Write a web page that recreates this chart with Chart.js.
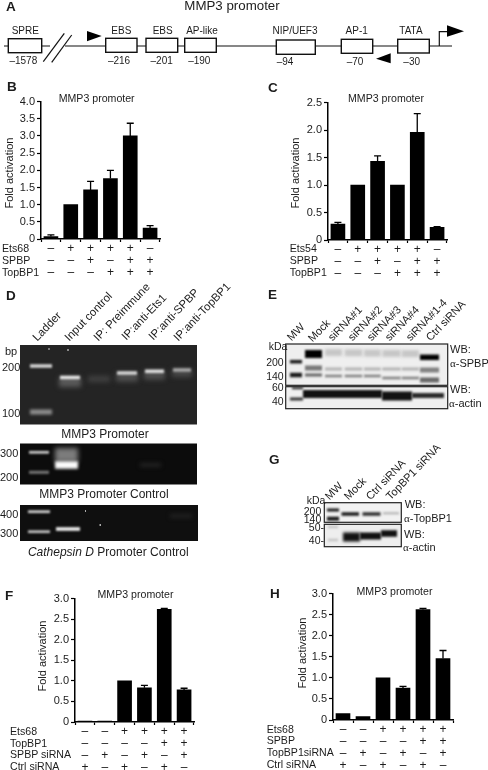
<!DOCTYPE html>
<html>
<head>
<meta charset="utf-8">
<script src="https://cdn.jsdelivr.net/npm/chart.js@4"></script>
<style>
  html, body { margin: 0; padding: 0; background: #fff; }
  body { position: relative; width: 488px; height: 770px; overflow: hidden; font-family: "Liberation Sans", Arial, sans-serif; color: #1c1c1c; filter: blur(0.3px); }
  canvas { position: absolute; }
  .t { position: absolute; white-space: nowrap; line-height: 1; }
  .a { font-family: "Liberation Serif", serif; }
</style>
</head>
<body>
<canvas id="art" width="488" height="770" style="left:0;top:0"></canvas>
<canvas id="chartB"></canvas>
<canvas id="chartC"></canvas>
<canvas id="chartF"></canvas>
<canvas id="chartH"></canvas>
<script>
// chart values
const valuesB = [0.07, 1.0, 1.43, 1.76, 3.0, 0.32];
const errTopB = [0.12, 1.0, 1.68, 2.0, 3.37, 0.39];
const rowNamesB = ["Ets68", "SPBP", "TopBP1"];
const rowsB = ["-++++-", "--+-++", "---+++"];

const valuesC = [0.29, 1.0, 1.43, 1.0, 1.96, 0.23];
const errTopC = [0.32, 1.0, 1.53, 1.0, 2.3, 0.245];
const rowNamesC = ["Ets54", "SPBP", "TopBP1"];
const rowsC = ["-++++-", "--+-++", "---+++"];

const valuesF = [0.02, 0.02, 1.0, 0.83, 2.74, 0.78];
const errTopF = [0.025, 0.025, 1.0, 0.89, 2.76, 0.82];
const rowNamesF = ["Ets68", "TopBP1", "SPBP siRNA", "Ctrl siRNA"];
const rowsF = ["--++++", "----++", "-+-+-+", "+-+-+-"];

const valuesH = [0.15, 0.08, 1.0, 0.76, 2.62, 1.46];
const errTopH = [0.15, 0.09, 1.0, 0.8, 2.65, 1.65];
const rowNamesH = ["Ets68", "SPBP", "TopBP1siRNA", "Ctrl siRNA"];
const rowsH = ["--++++", "----++", "-+-+-+", "+-+-+-"];

const INK = "#1c1c1c";

function text(str, x, y, size, opts) {
  opts = opts || {};
  const el = document.createElement("div");
  el.className = "t";
  el.innerHTML = str;
  el.style.fontSize = size + "px";
  el.style.left = x + "px";
  el.style.top = y + "px";
  let tf = "translateY(-50%)";
  if (opts.center) tf = "translate(-50%,-50%)";
  if (opts.right) tf = "translate(-100%,-50%)";
  if (opts.rotate) {
    tf = "rotate(" + opts.rotate + "deg)";
    el.style.transformOrigin = "0 100%";
    el.style.left = x + 2 + "px";
    el.style.top = y - size + 1.5 + "px";
  }
  if (opts.bold) el.style.fontWeight = "bold";
  el.style.transform = tf;
  document.body.appendChild(el);
}

// error bars go through the same y scale as the bars
const errorBars = {
  id: "errorBars",
  afterDatasetsDraw(chart, args, opts) {
    const { ctx, scales } = chart;
    ctx.save();
    ctx.strokeStyle = "#000";
    ctx.lineWidth = 1.3;
    opts.tops.forEach((top, i) => {
      const x = scales.x.getPixelForValue(i);
      const y0 = scales.y.getPixelForValue(chart.data.datasets[0].data[i]);
      const y1 = scales.y.getPixelForValue(top);
      if (y0 - y1 < 0.5) return;
      ctx.beginPath();
      ctx.moveTo(x, y0);
      ctx.lineTo(x, y1);
      ctx.moveTo(x - 3.5, y1);
      ctx.lineTo(x + 3.5, y1);
      ctx.stroke();
    });
    ctx.restore();
  },
};

function barChart(id, values, tops, rows, yMax, box) {
  const cv = document.getElementById(id);
  const axisW = 39;
  const padTop = 8;
  const width = box.right - box.axisX + axisW + 4;
  const height = box.zeroY - box.topY + padTop + 52;
  cv.style.left = box.axisX - axisW + "px";
  cv.style.top = box.topY - padTop + "px";
  cv.style.width = width + "px";
  cv.style.height = height + "px";
  cv.width = width;
  cv.height = height;
  const signs = { "-": "\u2013", "+": "+" };
  const labels = values.map((v, i) => rows.map((r) => signs[r[i]]));
  new Chart(cv, {
    type: "bar",
    data: {
      labels,
      datasets: [{ data: values, backgroundColor: "#000", barThickness: 14 }],
    },
    plugins: [errorBars],
    options: {
      responsive: false,
      animation: false,
      layout: { padding: { top: padTop, right: 4, left: 0, bottom: 0 } },
      plugins: {
        legend: { display: false },
        tooltip: { enabled: false },
        errorBars: { tops },
      },
      scales: {
        x: {
          afterFit: (s) => { s.height = 52; },
          grid: { drawOnChartArea: false, tickLength: 3, tickColor: "#000", tickWidth: 1.2 },
          border: { color: "#000", width: 1.5 },
          ticks: {
            autoSkip: false,
            maxRotation: 0,
            padding: 1,
            color: INK,
            font: { family: "Liberation Sans", size: 12, lineHeight: box.rowH / 12 },
          },
        },
        y: {
          min: 0,
          max: yMax,
          afterFit: (s) => { s.width = axisW; },
          grid: { drawOnChartArea: false, tickLength: 4, tickColor: "#000", tickWidth: 1.2 },
          border: { color: "#000", width: 1.5 },
          ticks: {
            stepSize: 0.5,
            padding: 2,
            color: INK,
            font: { family: "Liberation Sans", size: 11 },
            callback: (v) => (v === 0 ? "0" : v.toFixed(1)),
          },
        },
      },
    },
  });
}

barChart("chartB", valuesB, errTopB, rowsB, 4, { axisX: 41, right: 160, topY: 101, zeroY: 239, rowH: 12 });
barChart("chartC", valuesC, errTopC, rowsC, 2.5, { axisX: 328, right: 447, topY: 102, zeroY: 240, rowH: 12 });
barChart("chartF", valuesF, errTopF, rowsF, 3, { axisX: 75, right: 194, topY: 598, zeroY: 722, rowH: 11.8 });
barChart("chartH", valuesH, errTopH, rowsH, 3, { axisX: 333, right: 453, topY: 593, zeroY: 720, rowH: 11.8 });

// chart captions
function captions(letter, lx, ly, titleX, titleY, foldX, foldY, names, nameX, nameYs) {
  text(letter, lx, ly, 13.5, { bold: true });
  text("MMP3 promoter", titleX, titleY, 10.6, { center: true });
  const f = document.createElement("div");
  f.className = "t";
  f.textContent = "Fold activation";
  f.style.cssText = "font-size:11px;left:" + foldX + "px;top:" + foldY + "px;transform:translate(-50%,-50%) rotate(-90deg)";
  document.body.appendChild(f);
  names.forEach((n, i) => text(n, nameX, nameYs[i], 10.6));
}
captions("B", 7, 87, 96.7, 98, 8.5, 173, rowNamesB, 2, [248, 260, 272]);
captions("C", 268, 88, 386, 98, 295, 173, rowNamesC, 289.7, [248, 260, 272]);
captions("F", 5, 596, 135.5, 593.5, 42.3, 655.7, rowNamesF, 10, [730.7, 742.7, 754.3, 766]);
captions("H", 270, 594, 394.5, 591, 301.7, 652.7, rowNamesH, 266.7, [728.7, 740, 752.3, 764.3]);

// schematic and gel photographs, not chart data
const ctx = document.getElementById("art").getContext("2d");

function line(pts, w) {
  ctx.lineWidth = w || 1.2;
  ctx.strokeStyle = "#111";
  ctx.beginPath();
  pts.forEach((p, i) => (i ? ctx.lineTo(p[0], p[1]) : ctx.moveTo(p[0], p[1])));
  ctx.stroke();
}
function tri(pts) {
  ctx.fillStyle = "#000";
  ctx.beginPath();
  pts.forEach((p, i) => (i ? ctx.lineTo(p[0], p[1]) : ctx.moveTo(p[0], p[1])));
  ctx.fill();
}
function site(x0, x1, y0, y1) {
  ctx.fillStyle = "#fff";
  ctx.fillRect(x0, y0, x1 - x0, y1 - y0);
  ctx.strokeStyle = "#111";
  ctx.lineWidth = 1.4;
  ctx.strokeRect(x0, y0, x1 - x0, y1 - y0);
}

line([[4, 46], [50, 46]]);
line([[65, 46], [452, 46]]);
line([[43.3, 61.7], [64.3, 33.3]]);
line([[51.7, 62.3], [71.7, 35]]);
site(8.3, 41.7, 38.7, 52.7);
site(105.7, 137, 38.3, 52.3);
site(146, 177.7, 38.3, 52.3);
site(184.7, 216.3, 38.3, 52.3);
site(276.3, 315.3, 40, 54.3);
site(341.3, 372.7, 39.3, 53.3);
site(397.7, 429.3, 39.3, 53);
tri([[87, 31], [87, 41.3], [101.7, 36]]);
tri([[390.7, 53.3], [390.7, 63.3], [376, 58.7]]);
line([[439.3, 46], [439.3, 31.7], [449, 31.7]]);
tri([[447, 25.3], [447, 36.7], [464, 31.3]]);

text("A", 6, 7, 13.5, { bold: true });
text("MMP3 promoter", 232, 6, 13.3, { center: true });
[["SPRE", 25.3], ["EBS", 121.3], ["EBS", 162.7], ["AP-like", 202], ["NIP/UEF3", 295], ["AP-1", 356.7], ["TATA", 411]].forEach((s) =>
  text(s[0], s[1], 31, 10, { center: true }));
[["\u20131578", 23.3, 61], ["\u2013216", 119, 61], ["\u2013201", 161.7, 61], ["\u2013190", 199.3, 61], ["\u201394", 285, 62], ["\u201370", 355, 62], ["\u201330", 411.7, 62]].forEach((s) =>
  text(s[0], s[1], s[2], 10, { center: true }));

function band(x0, x1, y, h, color, blur) {
  ctx.save();
  ctx.filter = "blur(" + (blur === undefined ? 1 : blur) + "px)";
  ctx.fillStyle = color;
  ctx.fillRect(x0, y - h / 2, x1 - x0, h);
  ctx.restore();
}
function panel(x0, y0, x1, y1, bg, draw, border) {
  ctx.save();
  ctx.fillStyle = bg;
  ctx.fillRect(x0, y0, x1 - x0, y1 - y0);
  ctx.beginPath();
  ctx.rect(x0, y0, x1 - x0, y1 - y0);
  ctx.clip();
  draw();
  ctx.restore();
  if (border) {
    ctx.strokeStyle = "#222";
    ctx.lineWidth = 1.2;
    ctx.strokeRect(x0, y0, x1 - x0, y1 - y0);
  }
}

// D
panel(20, 345, 197, 424.5, "#242424", () => {
  band(30, 52, 366, 3.5, "#d8d8d8", 1.2);
  band(30, 52, 412, 5, "#8e8e8e", 1.6);
  band(59, 81, 382, 10, "#5a5a5a", 2.5);
  band(60, 80, 377.5, 3.5, "#e8e8e8", 1.2);
  band(88, 110, 379, 6, "#414141", 2.5);
  band(116, 138, 377, 9, "#505050", 2.5);
  band(117, 137, 373, 3.5, "#d8d8d8", 1.2);
  band(144, 165, 375, 9, "#505050", 2.5);
  band(145, 164, 371.3, 3.5, "#e0e0e0", 1.2);
  band(172, 192, 373, 8, "#484848", 2.5);
  band(173, 191, 370, 3.5, "#a8a8a8", 1.2);
  band(48, 50, 349, 2, "#777", 0.6);
  band(67, 69, 350, 2, "#888", 0.6);
});
panel(20, 443.5, 197, 484.5, "#0c0c0c", () => {
  band(29, 49, 452.3, 2.5, "#dedede", 0.9);
  band(29, 49, 472.3, 3, "#777", 1.2);
  band(55, 78, 455, 14, "#7c7c7c", 2.5);
  band(55, 78, 465, 7.5, "#fbfbfb", 1.4);
  band(140, 161, 465, 3.5, "#262626", 2);
});
panel(20, 505, 198, 541, "#0f0f0f", () => {
  band(28, 50, 511.7, 2.5, "#e2e2e2", 0.8);
  band(28, 50, 531.7, 2.5, "#d4d4d4", 0.8);
  band(56, 80, 529, 3.5, "#f6f6f6", 1);
  band(170, 192, 516, 3.5, "#242424", 2);
  band(85, 86, 511, 2, "#aaa", 0.6);
  band(99.5, 101, 525, 2, "#aaa", 0.6);
});
[["Ladder", 36.7, 342], ["Input control", 69.3, 342], ["IP: Preimmune", 97.7, 342], ["IP:anti-Ets1", 126, 341], ["IP:anti-SPBP", 153.3, 341], ["IP:anti-TopBP1", 178.3, 341.7]].forEach((s) =>
  text(s[0], s[1], s[2], 11.4, { rotate: -46 }));
text("D", 6, 296, 13.5, { bold: true });
text("bp", 5, 350.7, 11);
text("200", 2, 366.7, 11);
text("100", 2, 413.3, 11);
text("300", 0, 453, 11);
text("200", 0, 476.7, 11);
text("400", 0, 514.3, 11);
text("300", 0, 533.3, 11);
text("MMP3 Promoter", 105, 434.3, 12, { center: true });
text("MMP3 Promoter Control", 104, 494.3, 12, { center: true });
text("<i>Cathepsin D</i> Promoter Control", 108.3, 551.7, 12, { center: true });

// E
const laneE = [[325, 342], [344.7, 362.3], [364, 380.7], [382.3, 400.7], [401.7, 419]];
panel(285.7, 344, 447.7, 385.3, "#efefef", () => {
  band(290, 302, 361.7, 3.5, "#1a1a1a", 0.8);
  band(290, 302, 375, 4.5, "#1a1a1a", 0.8);
  band(305, 322, 354, 8, "#000", 1);
  band(305, 322, 368, 5, "#777", 1.3);
  band(305, 322, 375, 3, "#666", 1.2);
  laneE.forEach((l, i) => {
    band(l[0], l[1], 352.5 + i * 0.3, 7, "#c6c6c6", 1.6);
    band(l[0], l[1], 369, 3, "#b4b4b4", 1.2);
    band(l[0], l[1], 376 + (i > 2 ? 2 : 0), 2.5, "#808080", 1);
  });
  band(420, 439, 357.3, 5.5, "#000", 0.9);
  band(420, 439, 370, 5, "#808080", 1.3);
  band(420, 439, 380, 5, "#666", 1.3);
});
panel(285.7, 386.7, 447.7, 408.7, "#f0f0f0", () => {
  band(292, 303, 388, 2.5, "#333", 0.8);
  band(290, 303, 399, 3, "#333", 0.9);
  band(303, 382, 394, 8, "#111", 1.2);
  band(382, 412, 396, 9, "#111", 1.2);
  band(412, 444, 395.5, 5, "#2a2a2a", 1.2);
}, true);
ctx.strokeStyle = "#222";
ctx.lineWidth = 1.2;
ctx.strokeRect(285.7, 344, 162, 41.3);
[["MW", 291.3, 341], ["Mock", 312, 342], ["siRNA#1", 332.3, 341], ["siRNA#2", 352, 341], ["siRNA#3", 371.3, 341], ["siRNA#4", 389, 341], ["siRNA#1-4", 410, 341.7], ["Ctrl siRNA", 429.7, 341.7]].forEach((s) =>
  text(s[0], s[1], s[2], 11, { rotate: -46 }));
text("E", 268, 295, 13.5, { bold: true });
text("kDa", 268.7, 345.7, 10.5);
text("200", 283.7, 361.7, 10.5, { right: true });
text("140", 283.7, 375.7, 10.5, { right: true });
text("60", 283.7, 387.3, 10.5, { right: true });
text("40", 283.7, 400.7, 10.5, { right: true });
text("WB:", 450, 349, 11);
text('<span class="a">\u03b1</span>-SPBP', 450, 362.7, 11);
text("WB:", 450, 389.3, 11);
text('<span class="a">\u03b1</span>-actin', 449, 403, 11);

// G
panel(324.3, 502.7, 401.3, 522.3, "#f2f2f2", () => {
  band(327, 339, 510, 3, "#1a1a1a", 0.8);
  band(327, 339, 518.7, 4, "#1a1a1a", 0.8);
  band(341.5, 359, 514, 3.5, "#1c1c1c", 1);
  band(362.5, 380.5, 514, 3.5, "#303030", 1);
  band(383, 399, 513.3, 2, "#b0b0b0", 1);
}, true);
panel(324.3, 524.3, 401.3, 546.7, "#eeeeee", () => {
  band(328, 338, 527, 2.5, "#c4c4c4", 1);
  band(328, 338, 540, 2.5, "#c4c4c4", 1);
  band(343, 360, 537, 9, "#111", 1.4);
  band(360, 381, 536, 7, "#111", 1.2);
  band(381, 397, 533.5, 6.5, "#111", 1.2);
}, true);
[["MW", 329, 500], ["Mock", 348, 500.7], ["Ctrl siRNA", 369.7, 500.7], ["TopBP1 siRNA", 389.7, 500.7]].forEach((s) =>
  text(s[0], s[1], s[2], 11, { rotate: -46 }));
text("G", 269, 460, 13.5, { bold: true });
text("kDa", 306.7, 500, 10.5);
text("200", 321.3, 510.7, 10.5, { right: true });
text("140", 321.3, 519.3, 10.5, { right: true });
text("50-", 324, 527.3, 10.5, { right: true });
text("40-", 324, 540, 10.5, { right: true });
text("WB:", 404.7, 504, 11);
text('<span class="a">\u03b1</span>-TopBP1', 404, 517.7, 11);
text("WB:", 404, 534, 11);
text('<span class="a">\u03b1</span>-actin', 403, 547.3, 11);
</script>
</body>
</html>
